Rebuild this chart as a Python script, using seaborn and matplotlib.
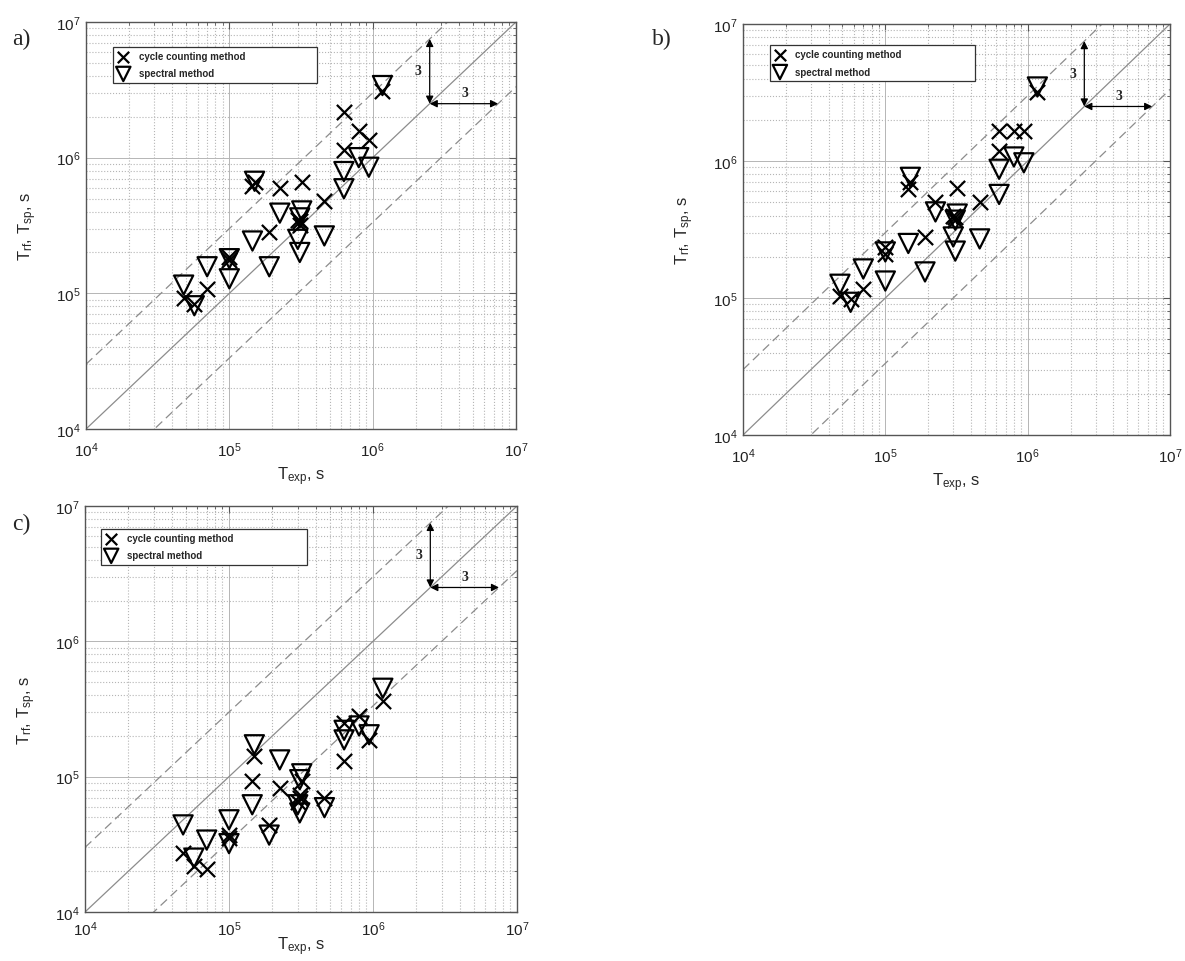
import numpy as np
import pandas as pd
import matplotlib
matplotlib.use("Agg")
import matplotlib.pyplot as plt
import seaborn as sns
from matplotlib.ticker import LogLocator, NullFormatter

# ---------------- data ----------------
t_exp = [4.8e4, 5.7e4, 7.0e4, 1.0e5, 1.0e5, 1.45e5, 1.5e5, 1.9e5, 2.25e5,
         3.0e5, 3.1e5, 3.2e5, 3.1e5, 4.6e5, 6.3e5, 6.3e5, 8.0e5, 9.4e5, 1.17e6]

a_rf = [9.2e4, 8.3e4, 1.08e5, 1.85e5, 1.75e5, 6.2e5, 6.6e5, 2.83e5, 6.0e5,
        3.5e5, 3.2e5, 6.6e5, 3.4e5, 4.8e5, 2.17e6, 1.14e6, 1.57e6, 1.35e6, 3.1e6]
a_sp = [1.15e5, 8.1e4, 1.57e5, 1.8e5, 1.28e5, 2.43e5, 6.7e5, 1.57e5, 3.9e5,
        2.5e5, 2.0e5, 4.05e5, 3.6e5, 2.65e5, 7.9e5, 5.9e5, 1.0e6, 8.5e5, 3.4e6]

b_rf = [1.04e5, 9.8e4, 1.16e5, 2.35e5, 2.1e5, 6.25e5, 7.0e5, 2.79e5, 5.0e5,
        4.0e5, 3.7e5, 6.35e5, 3.9e5, 5.0e5, 1.66e6, 1.18e6, 1.66e6, 1.66e6, 3.2e6]
b_sp = [1.26e5, 9.3e4, 1.63e5, 2.17e5, 1.33e5, 2.5e5, 7.6e5, 1.55e5, 4.25e5,
        2.79e5, 2.2e5, 4.1e5, 3.7e5, 2.7e5, 8.7e5, 5.7e5, 1.07e6, 9.7e5, 3.47e6]

c_rf = [2.75e4, 2.2e4, 2.07e4, 3.7e4, 3.5e4, 9.3e4, 1.43e5, 4.4e4, 8.3e4,
        6.5e4, 7.0e4, 9.3e4, 7.3e4, 7.0e4, 2.5e5, 1.31e5, 2.8e5, 1.87e5, 3.6e5]
c_sp = [4.4e4, 2.5e4, 3.4e4, 4.8e4, 3.2e4, 6.2e4, 1.72e5, 3.7e4, 1.33e5,
        6.2e4, 5.4e4, 1.05e5, 9.5e4, 5.9e4, 2.2e5, 1.87e5, 2.37e5, 2.04e5, 4.5e5]

panel_labels = ["a)", "b)", "c)"]
legend_labels = ["cycle counting method", "spectral method"]
axis_limits = [1e4, 1e7]
scatter_factor = 3

# ---------------- style ----------------
sns.set_theme(style="white")
plt.rcParams["font.family"] = ["Liberation Sans", "DejaVu Sans"]
plt.rcParams["mathtext.fontset"] = "custom"
plt.rcParams["mathtext.rm"] = "Liberation Sans"
plt.rcParams["mathtext.it"] = "Liberation Sans:italic"
plt.rcParams["mathtext.bf"] = "Liberation Sans:bold"

W, H = 1185, 962
fig = plt.figure(figsize=(W / 100, H / 100), dpi=100)
fig.patch.set_facecolor("white")


def px_axes(left, top, right, bottom):
    return fig.add_axes([left / W, 1 - bottom / H, (right - left) / W, (bottom - top) / H])


axes = [px_axes(86, 23, 516, 430), px_axes(743, 25, 1170, 436), px_axes(85, 507, 517, 913)]
legend_boxes = [(0.063, 0.939, 0.474), (0.0625, 0.949, 0.48), (0.037, 0.944, 0.477)]
letter_pos = [(12, 45), (652, 45), (12, 530)]
xlabel_pads = [4, 4, -2]
xtick_pads = [8, 8, 5]

data = [(a_rf, a_sp), (b_rf, b_sp), (c_rf, c_sp)]
grey = "#8c8c8c"

for ax, (rf, sp), lb, lp, letter, xpad, tpad in zip(axes, data, legend_boxes, letter_pos,
                                                   panel_labels, xlabel_pads, xtick_pads):
    ax.set_xscale("log")
    ax.set_yscale("log")
    ax.set_xlim(axis_limits)
    ax.set_ylim(axis_limits)

    # grid
    ax.grid(True, which="major", color="#b5b5b5", linestyle="-", linewidth=0.7, zorder=0)
    ax.grid(True, which="minor", color="#b5b5b5", linestyle=":", linewidth=0.8, zorder=0)
    ax.set_axisbelow(True)

    # reference lines
    xs = np.array(axis_limits)
    ax.plot(xs, xs, color=grey, lw=0.9, zorder=1)
    ax.plot(xs, xs * scatter_factor, color=grey, lw=0.9, ls=(0, (7, 4)), zorder=1)
    ax.plot(xs, xs / scatter_factor, color=grey, lw=0.9, ls=(0, (7, 4)), zorder=1)

    df = pd.DataFrame({"t_exp": t_exp, "rf": rf, "sp": sp})
    sns.scatterplot(data=df, x="t_exp", y="rf", marker="x", s=120, color="black",
                    linewidth=1.6, ax=ax, label=legend_labels[0], zorder=3)
    sns.scatterplot(data=df, x="t_exp", y="sp", marker="v", s=190, facecolor="none",
                    edgecolor="black", linewidth=1.6, ax=ax, label=legend_labels[1], zorder=3)

    # factor-3 arrows
    x0 = 2.5e6
    arrow_kw = dict(arrowstyle="<|-|>", color="black", lw=0.9, mutation_scale=11,
                    shrinkA=0, shrinkB=0)
    ax.annotate("", xy=(x0, x0 * scatter_factor), xytext=(x0, x0), arrowprops=arrow_kw, zorder=4)
    ax.annotate("", xy=(x0 * scatter_factor, x0), xytext=(x0, x0), arrowprops=arrow_kw, zorder=4)
    ax.text(x0 * 0.88, x0 * 1.75, str(scatter_factor), ha="right", va="center",
            fontsize=10, family="Liberation Serif", fontweight="bold")
    ax.text(x0 * 1.75, x0 * 1.08, str(scatter_factor), ha="center", va="bottom",
            fontsize=10, family="Liberation Serif", fontweight="bold")

    # ticks
    ax.xaxis.set_major_locator(LogLocator(base=10, numticks=10))
    ax.yaxis.set_major_locator(LogLocator(base=10, numticks=10))
    ax.xaxis.set_minor_locator(LogLocator(base=10, subs=np.arange(2, 10), numticks=20))
    ax.yaxis.set_minor_locator(LogLocator(base=10, subs=np.arange(2, 10), numticks=20))
    ax.xaxis.set_minor_formatter(NullFormatter())
    ax.yaxis.set_minor_formatter(NullFormatter())
    ax.tick_params(which="both", direction="in", top=True, right=True, color="#555555")
    ax.tick_params(which="major", length=5, width=0.8, labelsize=11, labelcolor="#222222")
    ax.tick_params(axis="x", which="major", pad=tpad)
    ax.tick_params(axis="y", which="major", pad=4)
    ax.tick_params(which="minor", length=2.5, width=0.6)
    for sp_ in ax.spines.values():
        sp_.set_color("#555555")
        sp_.set_linewidth(1.0)

    ax.set_xlabel(r"$\mathregular{T_{exp}}$, s", fontsize=12, labelpad=xpad)
    ax.set_ylabel(r"$\mathregular{T_{rf}}$, $\mathregular{T_{sp}}$, s", fontsize=12, labelpad=12)

    leg = ax.legend(loc="upper left", bbox_to_anchor=(lb[0], lb[1] - 0.1, lb[2], 0.1),
                    mode="expand", borderaxespad=0, fancybox=False, framealpha=1,
                    edgecolor="#333333", prop={"size": 7, "weight": "bold"},
                    handlelength=1.2, handletextpad=1.0, labelspacing=0.75,
                    borderpad=0.45, markerscale=0.75)
    leg.get_frame().set_linewidth(0.9)

    fig.text(lp[0] / W, 1 - lp[1] / H, letter, family="Liberation Serif", fontsize=17,
             ha="left", va="baseline")

fig.savefig("out.png", dpi=100, facecolor="white")
